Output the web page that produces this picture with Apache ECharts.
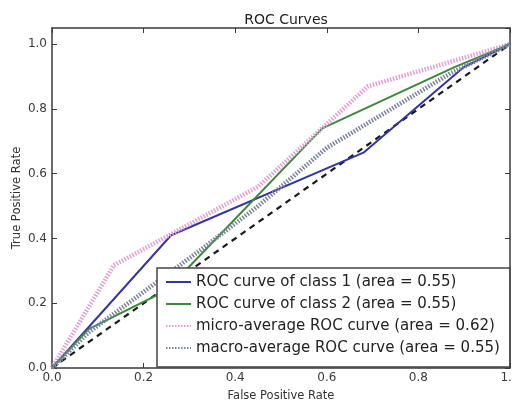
<!DOCTYPE html>
<html>
<head>
<meta charset="utf-8">
<title>ROC Curves</title>
<script src="https://cdn.jsdelivr.net/npm/echarts@6/dist/echarts.min.js"></script>
<style>
    html, body { margin: 0; padding: 0; background: #fff; }
    #main { width: 512px; height: 401px; }
</style>
</head>
<body>
<div id="main"></div>
<script>
// 数据
var fprClass1 = [0, 0.26, 0.68, 0.90, 1];
var tprClass1 = [0, 0.41, 0.665, 0.93, 1];

var fprClass2 = [0, 0.08, 0.25, 0.59, 0.88, 1];
var tprClass2 = [0, 0.12, 0.24, 0.74, 0.93, 1];

var fprMicro = [0, 0.135, 0.45, 0.69, 1];
var tprMicro = [0, 0.317, 0.56, 0.87, 1];

var fprMacro = [0, 0.08, 0.32, 0.45, 0.60, 0.87, 1];
var tprMacro = [0, 0.11, 0.36, 0.50, 0.68, 0.91, 1];

var chanceX = [0, 1];
var chanceY = [0, 1];

var seriesNames = [
    'ROC curve of class 1 (area = 0.55)',
    'ROC curve of class 2 (area = 0.55)',
    'micro-average ROC curve (area = 0.62)',
    'macro-average ROC curve (area = 0.55)'
];

function pairs(xs, ys) {
    var out = [];
    for (var i = 0; i < xs.length; i++) {
        out.push([xs[i], ys[i]]);
    }
    return out;
}

window.onload = function () {
    var myChart = echarts.init(document.getElementById('main'));

    var font = 'DejaVu Sans';
    var axisColor = '#3a3a3a';

    // 刻度 inward, box on all four sides
    function boxAxis(pos, showLabel, max) {
        return {
            type: 'value',
            position: pos,
            min: 0,
            max: max,
            interval: 0.2,
            axisLine: { show: true, onZero: false, lineStyle: { color: axisColor, width: 1.5 } },
            axisTick: { show: true, inside: true, length: 5, lineStyle: { color: axisColor } },
            splitLine: { show: false },
            axisLabel: {
                show: showLabel,
                showMaxLabel: max === 1,
                color: '#3a3a3a',
                fontFamily: font,
                fontSize: 12,
                margin: 5,
                formatter: function (v) { return v.toFixed(1); }
            }
        };
    }

    var xBottom = boxAxis('bottom', true, 1);
    xBottom.name = 'False Positive Rate';
    xBottom.nameLocation = 'middle';
    xBottom.nameGap = 22;
    xBottom.nameTextStyle = { color: '#333', fontFamily: font, fontSize: 11.5 };
    xBottom.axisLabel.margin = 4;

    var yLeft = boxAxis('left', true, 1.05);
    yLeft.name = 'True Positive Rate';
    yLeft.nameLocation = 'middle';
    yLeft.nameGap = 29;
    yLeft.nameMoveOverlap = false;
    yLeft.nameTextStyle = { color: '#333', fontFamily: font, fontSize: 11.5 };

    var option = {
        backgroundColor: '#fff',
        animation: false,
        title: {
            text: 'ROC Curves',
            left: 281,
            textAlign: 'center',
            top: 8,
            textStyle: { color: '#222', fontFamily: font, fontSize: 14, fontWeight: 'normal' }
        },
        grid: { left: 52, right: 2, top: 28, bottom: 33, containLabel: false, outerBoundsMode: 'none' },
        xAxis: [xBottom, boxAxis('top', false, 1)],
        yAxis: [yLeft, boxAxis('right', false, 1.05)],
        legend: {
            data: seriesNames,
            orient: 'vertical',
            left: 157,
            top: 268,
            padding: [6, 10, 11, 8],
            itemWidth: 25,
            itemHeight: 16,
            itemGap: 6,
            backgroundColor: '#fff',
            borderColor: '#444',
            borderWidth: 1.5,
            borderRadius: 0,
            itemStyle: { opacity: 0 },
            textStyle: { color: '#222', fontFamily: font, fontSize: 15, lineHeight: 16 }
        },
        series: [
            {
                name: seriesNames[0],
                type: 'line',
                symbol: 'none',
                data: pairs(fprClass1, tprClass1),
                itemStyle: { color: '#3434a2' },
                lineStyle: { color: '#3434a2', width: 2 }
            },
            {
                name: seriesNames[1],
                type: 'line',
                symbol: 'none',
                data: pairs(fprClass2, tprClass2),
                itemStyle: { color: '#3a8a3a' },
                lineStyle: { color: '#3a8a3a', width: 2 }
            },
            {
                name: seriesNames[2],
                type: 'line',
                symbol: 'none',
                data: pairs(fprMicro, tprMicro),
                itemStyle: { color: '#e3a0d4' },
                lineStyle: { color: '#e3a0d4', width: 4.5, type: [1.5, 1.5] }
            },
            {
                name: seriesNames[3],
                type: 'line',
                symbol: 'none',
                data: pairs(fprMacro, tprMacro),
                itemStyle: { color: '#7c829c' },
                lineStyle: { color: '#7c829c', width: 4.5, type: [1.5, 1.5] }
            },
            {
                // 对角线
                name: 'chance',
                type: 'line',
                symbol: 'none',
                data: pairs(chanceX, chanceY),
                lineStyle: { color: '#1a1a1a', width: 2.2, type: [6, 5] },
                z: 1
            }
        ]
    };

    myChart.setOption(option);
};
</script>
</body>
</html>
